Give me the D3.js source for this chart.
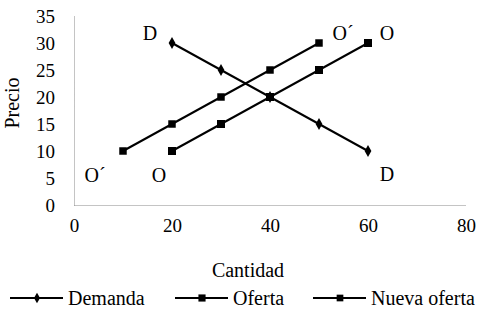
<!DOCTYPE html>
<html>
<head>
<meta charset="utf-8">
<script src="https://cdn.jsdelivr.net/npm/d3@7"></script>
<style>
  body { margin: 0; background: #fff; }
  text { font-family: "Liberation Serif", "Times New Roman", serif; fill: #000; }
</style>
</head>
<body>
<div id="chart-area"></div>
<script>
// data
const demandaX = [20, 30, 40, 50, 60];
const demandaY = [30, 25, 20, 15, 10];
const ofertaX = [20, 30, 40, 50, 60];
const ofertaY = [10, 15, 20, 25, 30];
const nuevaX = [10, 20, 30, 40, 50];
const nuevaY = [10, 15, 20, 25, 30];
const xTicks = [0, 20, 40, 60, 80];
const yTicks = [0, 5, 10, 15, 20, 25, 30, 35];
const seriesNames = ["Demanda", "Oferta", "Nueva oferta"];
const curveLabels = [
  {t: "D", x: 20, y: 30, dx: -22, dy: -10},
  {t: "D", x: 60, y: 10, dx: 19, dy: 23},
  {t: "O\u00b4", x: 10, y: 10, dx: -28, dy: 24},
  {t: "O", x: 20, y: 10, dx: -13, dy: 24},
  {t: "O\u00b4", x: 50, y: 30, dx: 24, dy: -10},
  {t: "O", x: 60, y: 30, dx: 19, dy: -10}
];

const W = 481, H = 309;
const serif = "'Liberation Serif', 'Times New Roman', serif";
const svg = d3.select("#chart-area").append("svg")
  .attr("width", W).attr("height", H);

const x = d3.scaleLinear().domain([0, 80]).range([74, 466]);
const y = d3.scaleLinear().domain([0, 35]).range([205, 16]);

// axes (dotted grey, no ticks)
const axB = svg.append("g").attr("transform", `translate(0,${y(0)})`)
  .call(d3.axisBottom(x).tickValues(xTicks).tickSize(0).tickPadding(14));
const axL = svg.append("g").attr("transform", `translate(${x(0)},0)`)
  .call(d3.axisLeft(y).tickValues(yTicks).tickSize(0).tickPadding(19));
[axB, axL].forEach(a => {
  a.attr("font-family", null);
  a.select(".domain").attr("stroke", "#888").attr("stroke-dasharray", "1,1").attr("stroke-width", 1);
  a.selectAll("text").style("font-size", "19px").style("font-family", serif);
});

// axis titles
svg.append("text").attr("x", 248).attr("y", 277)
  .attr("text-anchor", "middle").attr("font-size", "20px").text("Cantidad");
svg.append("text").attr("transform", "translate(19,103) rotate(-90)")
  .attr("text-anchor", "middle").attr("font-size", "20px").text("Precio");

const series = [
  {name: seriesNames[0], xs: demandaX, ys: demandaY, sym: d3.symbolDiamond, size: 40},
  {name: seriesNames[1], xs: ofertaX, ys: ofertaY, sym: d3.symbolSquare, size: 64},
  {name: seriesNames[2], xs: nuevaX, ys: nuevaY, sym: d3.symbolSquare, size: 56}
];

const line = d3.line().x(d => x(d[0])).y(d => y(d[1]));
series.forEach(s => {
  const pts = s.xs.map((v, i) => [v, s.ys[i]]);
  svg.append("path").attr("d", line(pts))
    .attr("fill", "none").attr("stroke", "#000").attr("stroke-width", 2);
  svg.selectAll(null).data(pts).enter().append("path")
    .attr("d", d3.symbol().type(s.sym).size(s.size))
    .attr("transform", d => `translate(${x(d[0])},${y(d[1])})`)
    .attr("fill", "#000");
});

// curve labels
svg.selectAll(".lbl").data(curveLabels).enter().append("text")
  .attr("x", d => x(d.x) + d.dx)
  .attr("y", d => y(d.y) + d.dy + 7)
  .attr("text-anchor", "middle").attr("font-size", "20px")
  .text(d => d.t);

// legend
const legX = [10, 175, 313];
const leg = svg.append("g").attr("transform", "translate(0,298)");
series.forEach((s, i) => {
  const g = leg.append("g").attr("transform", `translate(${legX[i]},0)`);
  g.append("line").attr("x1", 0).attr("x2", 53).attr("y1", 0).attr("y2", 0)
    .attr("stroke", "#000").attr("stroke-width", 2);
  g.append("path").attr("d", d3.symbol().type(s.sym).size(s.size * 0.8))
    .attr("transform", "translate(27,0)").attr("fill", "#000");
  g.append("text").attr("x", 58).attr("y", 7).attr("font-size", "20px").text(s.name);
});
</script>
</body>
</html>
